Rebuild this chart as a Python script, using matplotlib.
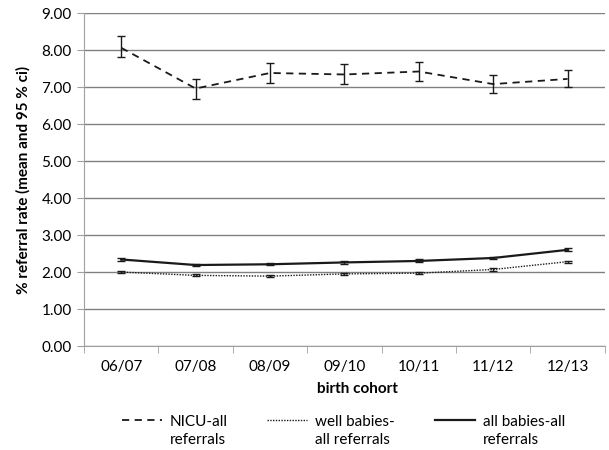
import matplotlib.pyplot as plt
from matplotlib.lines import Line2D
import numpy as np

plt.rcParams['font.family'] = ['Lato', 'DejaVu Sans']

cohorts = ['06/07', '07/08', '08/09', '09/10', '10/11', '11/12', '12/13']

nicu_mean = [8.06, 6.96, 7.38, 7.34, 7.42, 7.08, 7.22]
nicu_low = [7.80, 6.68, 7.11, 7.08, 7.17, 6.83, 6.99]
nicu_high = [8.37, 7.21, 7.65, 7.61, 7.67, 7.32, 7.46]

well_mean = [2.00, 1.91, 1.89, 1.95, 1.97, 2.07, 2.28]
well_low = [1.97, 1.88, 1.86, 1.92, 1.94, 2.04, 2.25]
well_high = [2.03, 1.94, 1.92, 1.98, 2.00, 2.10, 2.31]

all_mean = [2.34, 2.19, 2.21, 2.26, 2.30, 2.38, 2.60]
all_low = [2.30, 2.16, 2.18, 2.23, 2.26, 2.34, 2.56]
all_high = [2.38, 2.22, 2.24, 2.29, 2.34, 2.42, 2.64]

fig = plt.figure(figsize=(6.09, 4.5), dpi=100)
ax = fig.add_axes([0.138, 0.231, 0.855, 0.74])

x = np.arange(len(cohorts))
ink = '#1a1a1a'

series = [
    (nicu_mean, nicu_low, nicu_high, (0, (4, 3)), 1.3, 'NICU-all\nreferrals'),
    (well_mean, well_low, well_high, (0, (1, 1)), 1.0, 'well babies-\nall referrals'),
    (all_mean, all_low, all_high, '-', 1.6, 'all babies-all\nreferrals'),
]

for mean, low, high, ls, lw, label in series:
    mean = np.array(mean)
    err = [mean - np.array(low), np.array(high) - mean]
    ax.plot(x, mean, color=ink, linestyle=ls, linewidth=lw)
    ax.errorbar(x, mean, yerr=err, fmt='none', ecolor=ink,
                elinewidth=1.0, capsize=3, capthick=1.0)

ax.set_xlim(-0.5, len(cohorts) - 0.5)
ax.set_ylim(0, 9)
ax.set_yticks(np.arange(0, 10, 1))
ax.set_yticklabels([f'{v:.2f}' for v in range(10)])
ax.set_xticks(x)
ax.set_xticklabels(cohorts)
ax.set_xticks(np.arange(-0.5, len(cohorts), 1), minor=True)

ax.yaxis.grid(True, color='#808080', linewidth=1.0)
ax.set_axisbelow(True)
for side in ['top', 'right']:
    ax.spines[side].set_visible(False)
for side in ['left', 'bottom']:
    ax.spines[side].set_color('#a0a0a0')
ax.tick_params(axis='y', length=5, color='#a0a0a0', labelsize=11, pad=4)
ax.tick_params(axis='x', which='major', length=0, labelsize=11, pad=10)
ax.tick_params(axis='x', which='minor', length=5, color='#a0a0a0')

ax.set_ylabel('% referral rate (mean and 95 % ci)', fontsize=11,
              fontweight='bold', labelpad=8)
ax.set_xlabel('birth cohort', fontsize=11, fontweight='bold', va='center')
ax.xaxis.set_label_coords(0.526, -0.129)

# legend row under the axis title: sample line level with the first text line
legend_x = [122, 267, 435]
handle_len = 40
for (_, _, _, ls, lw, label), x0 in zip(series, legend_x):
    fx0 = x0 / 609
    fx1 = (x0 + handle_len) / 609
    fig.add_artist(Line2D([fx0, fx1], [1 - 420 / 450] * 2,
                          transform=fig.transFigure, color=ink,
                          linestyle=ls, linewidth=lw))
    fig.text((x0 + handle_len + 8) / 609, 1 - 431 / 450, label,
             fontsize=11, va='center', ha='left', linespacing=1.45)

fig.savefig('out.png', dpi=100)
